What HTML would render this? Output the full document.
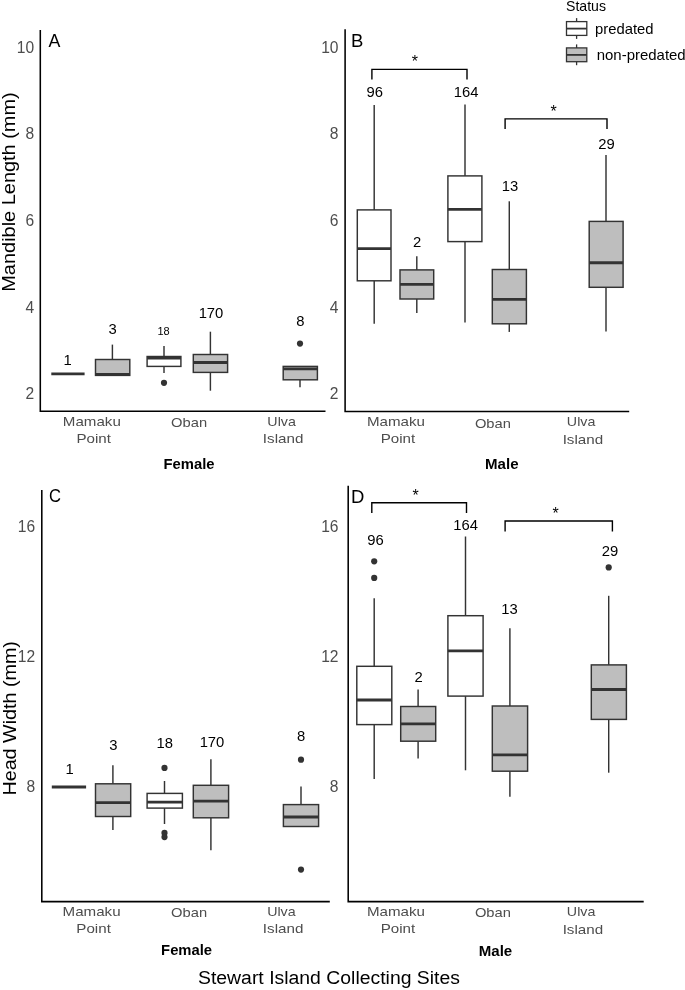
<!DOCTYPE html>
<html><head><meta charset="utf-8"><title>Boxplots</title>
<style>
html,body{margin:0;padding:0;background:#fff;}
svg{display:block;filter:grayscale(1);}
svg text{font-family:"Liberation Sans",sans-serif;}
</style></head><body>
<svg width="685" height="990" viewBox="0 0 685 990">
<rect width="685" height="990" fill="#fff"/>
<path d="M40.3 30 V411.3 H325.5" fill="none" stroke="#000" stroke-width="1.55" stroke-linejoin="miter"/>
<text x="34.2" y="52.8" font-size="15.6" fill="#4d4d4d" text-anchor="end" font-weight="normal">10</text>
<text x="34.2" y="139.4" font-size="15.6" fill="#4d4d4d" text-anchor="end" font-weight="normal">8</text>
<text x="34.2" y="226.0" font-size="15.6" fill="#4d4d4d" text-anchor="end" font-weight="normal">6</text>
<text x="34.2" y="312.59999999999997" font-size="15.6" fill="#4d4d4d" text-anchor="end" font-weight="normal">4</text>
<text x="34.2" y="399.2" font-size="15.6" fill="#4d4d4d" text-anchor="end" font-weight="normal">2</text>
<text x="48.5" y="47.4" font-size="18.5" fill="#000" text-anchor="start" font-weight="normal" textLength="11.9" lengthAdjust="spacingAndGlyphs">A</text>
<line x1="51.3" y1="373.9" x2="84.6" y2="373.9" stroke="#333333" stroke-width="2.85"/>
<text x="67.7" y="365.1096" font-size="14.8" fill="#000" text-anchor="middle" font-weight="normal">1</text>
<line x1="112.4" y1="344.6" x2="112.4" y2="359.5" stroke="#333333" stroke-width="1.45"/>
<rect x="95.5" y="359.5" width="34.30" height="15.90" fill="#bebebe" stroke="#333333" stroke-width="1.45"/>
<line x1="95.5" y1="374.3" x2="129.8" y2="374.3" stroke="#333333" stroke-width="2.85"/>
<text x="112.6" y="333.6096" font-size="14.8" fill="#000" text-anchor="middle" font-weight="normal">3</text>
<line x1="164" y1="346.1" x2="164" y2="356.5" stroke="#333333" stroke-width="1.45"/>
<line x1="164" y1="366.4" x2="164" y2="372.9" stroke="#333333" stroke-width="1.45"/>
<rect x="147.1" y="356.5" width="33.80" height="9.90" fill="#ffffff" stroke="#333333" stroke-width="1.45"/>
<line x1="147.1" y1="358.0" x2="180.9" y2="358.0" stroke="#333333" stroke-width="2.85"/>
<circle cx="164" cy="382.8" r="3.1" fill="#333333"/>
<text x="163.5" y="335.172" font-size="11" fill="#000" text-anchor="middle" font-weight="normal">18</text>
<line x1="210.4" y1="331.7" x2="210.4" y2="354.5" stroke="#333333" stroke-width="1.45"/>
<line x1="210.4" y1="372.4" x2="210.4" y2="390.7" stroke="#333333" stroke-width="1.45"/>
<rect x="193.3" y="354.5" width="34.30" height="17.90" fill="#bebebe" stroke="#333333" stroke-width="1.45"/>
<line x1="193.3" y1="362.5" x2="227.6" y2="362.5" stroke="#333333" stroke-width="2.85"/>
<text x="211" y="318.4096" font-size="14.8" fill="#000" text-anchor="middle" font-weight="normal">170</text>
<line x1="300" y1="379.8" x2="300" y2="387.3" stroke="#333333" stroke-width="1.45"/>
<rect x="283.2" y="366.4" width="34.20" height="13.40" fill="#bebebe" stroke="#333333" stroke-width="1.45"/>
<line x1="283.2" y1="368.9" x2="317.4" y2="368.9" stroke="#333333" stroke-width="2.85"/>
<circle cx="300" cy="343.6" r="3.1" fill="#333333"/>
<text x="300.3" y="326.2096" font-size="14.8" fill="#000" text-anchor="middle" font-weight="normal">8</text>
<text x="91.8" y="426.2" font-size="13.5" fill="#4d4d4d" text-anchor="middle" font-weight="normal" textLength="58" lengthAdjust="spacingAndGlyphs">Mamaku</text>
<text x="93.7" y="443.0" font-size="13.5" fill="#4d4d4d" text-anchor="middle" font-weight="normal" textLength="34.5" lengthAdjust="spacingAndGlyphs">Point</text>
<text x="189.1" y="426.6" font-size="13.5" fill="#4d4d4d" text-anchor="middle" font-weight="normal" textLength="36" lengthAdjust="spacingAndGlyphs">Oban</text>
<text x="281.6" y="426.2" font-size="13.5" fill="#4d4d4d" text-anchor="middle" font-weight="normal" textLength="28.5" lengthAdjust="spacingAndGlyphs">Ulva</text>
<text x="283.1" y="443.2" font-size="13.5" fill="#4d4d4d" text-anchor="middle" font-weight="normal" textLength="40.5" lengthAdjust="spacingAndGlyphs">Island</text>
<text x="189" y="469.3" font-size="13.8" fill="#000" text-anchor="middle" font-weight="bold" textLength="51" lengthAdjust="spacingAndGlyphs">Female</text>
<path d="M345.1 29.3 V411.4 H629.2" fill="none" stroke="#000" stroke-width="1.55" stroke-linejoin="miter"/>
<text x="338.5" y="52.8" font-size="15.6" fill="#4d4d4d" text-anchor="end" font-weight="normal">10</text>
<text x="338.5" y="139.4" font-size="15.6" fill="#4d4d4d" text-anchor="end" font-weight="normal">8</text>
<text x="338.5" y="226.0" font-size="15.6" fill="#4d4d4d" text-anchor="end" font-weight="normal">6</text>
<text x="338.5" y="312.59999999999997" font-size="15.6" fill="#4d4d4d" text-anchor="end" font-weight="normal">4</text>
<text x="338.5" y="399.2" font-size="15.6" fill="#4d4d4d" text-anchor="end" font-weight="normal">2</text>
<text x="351.1" y="47.4" font-size="18.5" fill="#000" text-anchor="start" font-weight="normal">B</text>
<path d="M371.9 79.4 V69.4 H467 V79.4" fill="none" stroke="#000" stroke-width="1.4"/>
<text x="414.9" y="67.2" font-size="16" fill="#000" text-anchor="middle" font-weight="normal">*</text>
<path d="M505.1 128.9 V118.9 H607 V128.9" fill="none" stroke="#000" stroke-width="1.4"/>
<text x="553.6" y="117.1" font-size="16" fill="#000" text-anchor="middle" font-weight="normal">*</text>
<line x1="374.2" y1="105.1" x2="374.2" y2="209.9" stroke="#333333" stroke-width="1.45"/>
<line x1="374.2" y1="280.8" x2="374.2" y2="323.8" stroke="#333333" stroke-width="1.45"/>
<rect x="357.3" y="209.9" width="33.70" height="70.90" fill="#ffffff" stroke="#333333" stroke-width="1.45"/>
<line x1="357.3" y1="248.6" x2="391" y2="248.6" stroke="#333333" stroke-width="2.85"/>
<text x="374.7" y="97.1096" font-size="14.8" fill="#000" text-anchor="middle" font-weight="normal">96</text>
<line x1="416.8" y1="256.3" x2="416.8" y2="269.9" stroke="#333333" stroke-width="1.45"/>
<line x1="416.8" y1="299" x2="416.8" y2="312.9" stroke="#333333" stroke-width="1.45"/>
<rect x="400" y="269.9" width="33.70" height="29.10" fill="#bebebe" stroke="#333333" stroke-width="1.45"/>
<line x1="400" y1="284.3" x2="433.7" y2="284.3" stroke="#333333" stroke-width="2.85"/>
<text x="417" y="246.8096" font-size="14.8" fill="#000" text-anchor="middle" font-weight="normal">2</text>
<line x1="465" y1="104.4" x2="465" y2="175.9" stroke="#333333" stroke-width="1.45"/>
<line x1="465" y1="241.6" x2="465" y2="322.5" stroke="#333333" stroke-width="1.45"/>
<rect x="447.9" y="175.9" width="34.00" height="65.70" fill="#ffffff" stroke="#333333" stroke-width="1.45"/>
<line x1="447.9" y1="209.4" x2="481.9" y2="209.4" stroke="#333333" stroke-width="2.85"/>
<text x="466.2" y="97.1096" font-size="14.8" fill="#000" text-anchor="middle" font-weight="normal">164</text>
<line x1="509.3" y1="201.3" x2="509.3" y2="269.5" stroke="#333333" stroke-width="1.45"/>
<line x1="509.3" y1="323.8" x2="509.3" y2="331.9" stroke="#333333" stroke-width="1.45"/>
<rect x="492.3" y="269.5" width="34.10" height="54.30" fill="#bebebe" stroke="#333333" stroke-width="1.45"/>
<line x1="492.3" y1="299.4" x2="526.4" y2="299.4" stroke="#333333" stroke-width="2.85"/>
<text x="509.9" y="191.40959999999998" font-size="14.8" fill="#000" text-anchor="middle" font-weight="normal">13</text>
<line x1="606" y1="155" x2="606" y2="221.4" stroke="#333333" stroke-width="1.45"/>
<line x1="606" y1="287.3" x2="606" y2="331.6" stroke="#333333" stroke-width="1.45"/>
<rect x="589.2" y="221.4" width="33.90" height="65.90" fill="#bebebe" stroke="#333333" stroke-width="1.45"/>
<line x1="589.2" y1="262.7" x2="623.1" y2="262.7" stroke="#333333" stroke-width="2.85"/>
<text x="606.6" y="149.3096" font-size="14.8" fill="#000" text-anchor="middle" font-weight="normal">29</text>
<text x="396" y="425.8" font-size="13.5" fill="#4d4d4d" text-anchor="middle" font-weight="normal" textLength="58" lengthAdjust="spacingAndGlyphs">Mamaku</text>
<text x="398" y="442.9" font-size="13.5" fill="#4d4d4d" text-anchor="middle" font-weight="normal" textLength="34.5" lengthAdjust="spacingAndGlyphs">Point</text>
<text x="492.9" y="427.5" font-size="13.5" fill="#4d4d4d" text-anchor="middle" font-weight="normal" textLength="36" lengthAdjust="spacingAndGlyphs">Oban</text>
<text x="581.1" y="426.3" font-size="13.5" fill="#4d4d4d" text-anchor="middle" font-weight="normal" textLength="28.5" lengthAdjust="spacingAndGlyphs">Ulva</text>
<text x="582.9" y="443.6" font-size="13.5" fill="#4d4d4d" text-anchor="middle" font-weight="normal" textLength="40.5" lengthAdjust="spacingAndGlyphs">Island</text>
<text x="501.8" y="469.3" font-size="13.8" fill="#000" text-anchor="middle" font-weight="bold" textLength="33.5" lengthAdjust="spacingAndGlyphs">Male</text>
<text x="566" y="10.7" font-size="14.2" fill="#000" text-anchor="start" font-weight="normal" textLength="40" lengthAdjust="spacingAndGlyphs">Status</text>
<line x1="576.6" y1="18.1" x2="576.6" y2="38.900000000000006" stroke="#333333" stroke-width="1.3"/>
<rect x="566.5" y="21.6" width="20.3" height="13.8" fill="#ffffff" stroke="#333333" stroke-width="1.3"/>
<line x1="566.5" y1="28.6" x2="586.8" y2="28.6" stroke="#333333" stroke-width="1.8"/>
<line x1="576.6" y1="44.4" x2="576.6" y2="65.2" stroke="#333333" stroke-width="1.3"/>
<rect x="566.5" y="47.9" width="20.3" height="13.8" fill="#bebebe" stroke="#333333" stroke-width="1.3"/>
<line x1="566.5" y1="54.9" x2="586.8" y2="54.9" stroke="#333333" stroke-width="1.8"/>
<text x="595" y="33.5" font-size="14.2" fill="#000" text-anchor="start" font-weight="normal" textLength="58.5" lengthAdjust="spacingAndGlyphs">predated</text>
<text x="596.7" y="59.8" font-size="14.2" fill="#000" text-anchor="start" font-weight="normal" textLength="89" lengthAdjust="spacingAndGlyphs">non-predated</text>
<path d="M41.8 490.0 V901.6 H329.8" fill="none" stroke="#000" stroke-width="1.55" stroke-linejoin="miter"/>
<text x="35.2" y="531.9" font-size="15.6" fill="#4d4d4d" text-anchor="end" font-weight="normal">16</text>
<text x="35.2" y="662.1" font-size="15.6" fill="#4d4d4d" text-anchor="end" font-weight="normal">12</text>
<text x="35.2" y="792.3" font-size="15.6" fill="#4d4d4d" text-anchor="end" font-weight="normal">8</text>
<text x="48.9" y="502.4" font-size="18.5" fill="#000" text-anchor="start" font-weight="normal" textLength="12.0" lengthAdjust="spacingAndGlyphs">C</text>
<line x1="51.8" y1="787" x2="86.1" y2="787" stroke="#333333" stroke-width="2.85"/>
<text x="69.7" y="774.3096" font-size="14.8" fill="#000" text-anchor="middle" font-weight="normal">1</text>
<line x1="112.9" y1="765.2" x2="112.9" y2="783.8" stroke="#333333" stroke-width="1.45"/>
<line x1="112.9" y1="816.5" x2="112.9" y2="829.9" stroke="#333333" stroke-width="1.45"/>
<rect x="95.5" y="783.8" width="35.20" height="32.70" fill="#bebebe" stroke="#333333" stroke-width="1.45"/>
<line x1="95.5" y1="802.6" x2="130.7" y2="802.6" stroke="#333333" stroke-width="2.85"/>
<text x="113.4" y="750.0096000000001" font-size="14.8" fill="#000" text-anchor="middle" font-weight="normal">3</text>
<line x1="164.5" y1="781" x2="164.5" y2="793.4" stroke="#333333" stroke-width="1.45"/>
<line x1="164.5" y1="808.1" x2="164.5" y2="824" stroke="#333333" stroke-width="1.45"/>
<rect x="147.1" y="793.4" width="35.30" height="14.70" fill="#ffffff" stroke="#333333" stroke-width="1.45"/>
<line x1="147.1" y1="802.1" x2="182.4" y2="802.1" stroke="#333333" stroke-width="2.85"/>
<circle cx="164.5" cy="767.9" r="3.1" fill="#333333"/>
<circle cx="164.5" cy="832.9" r="3.1" fill="#333333"/>
<circle cx="164.5" cy="837.1" r="3.1" fill="#333333"/>
<text x="164.8" y="747.5096000000001" font-size="14.8" fill="#000" text-anchor="middle" font-weight="normal">18</text>
<line x1="210.9" y1="759.2" x2="210.9" y2="785.3" stroke="#333333" stroke-width="1.45"/>
<line x1="210.9" y1="817.8" x2="210.9" y2="850.3" stroke="#333333" stroke-width="1.45"/>
<rect x="193.3" y="785.3" width="35.30" height="32.50" fill="#bebebe" stroke="#333333" stroke-width="1.45"/>
<line x1="193.3" y1="801.1" x2="228.6" y2="801.1" stroke="#333333" stroke-width="2.85"/>
<text x="212" y="746.7096" font-size="14.8" fill="#000" text-anchor="middle" font-weight="normal">170</text>
<line x1="301" y1="786.5" x2="301" y2="804.6" stroke="#333333" stroke-width="1.45"/>
<rect x="283.4" y="804.6" width="35.20" height="21.90" fill="#bebebe" stroke="#333333" stroke-width="1.45"/>
<line x1="283.4" y1="817" x2="318.6" y2="817" stroke="#333333" stroke-width="2.85"/>
<circle cx="301" cy="759.7" r="3.1" fill="#333333"/>
<circle cx="301" cy="869.6" r="3.1" fill="#333333"/>
<text x="301.2" y="740.5096000000001" font-size="14.8" fill="#000" text-anchor="middle" font-weight="normal">8</text>
<text x="91.6" y="915.8" font-size="13.5" fill="#4d4d4d" text-anchor="middle" font-weight="normal" textLength="58" lengthAdjust="spacingAndGlyphs">Mamaku</text>
<text x="93.6" y="932.6" font-size="13.5" fill="#4d4d4d" text-anchor="middle" font-weight="normal" textLength="34.5" lengthAdjust="spacingAndGlyphs">Point</text>
<text x="189.1" y="917.3" font-size="13.5" fill="#4d4d4d" text-anchor="middle" font-weight="normal" textLength="36" lengthAdjust="spacingAndGlyphs">Oban</text>
<text x="281.4" y="916.1" font-size="13.5" fill="#4d4d4d" text-anchor="middle" font-weight="normal" textLength="28.5" lengthAdjust="spacingAndGlyphs">Ulva</text>
<text x="283.1" y="933.4" font-size="13.5" fill="#4d4d4d" text-anchor="middle" font-weight="normal" textLength="40.5" lengthAdjust="spacingAndGlyphs">Island</text>
<text x="186.6" y="955.4" font-size="13.8" fill="#000" text-anchor="middle" font-weight="bold" textLength="51" lengthAdjust="spacingAndGlyphs">Female</text>
<path d="M348.2 485.7 V901.6 H643.7" fill="none" stroke="#000" stroke-width="1.55" stroke-linejoin="miter"/>
<text x="338.5" y="531.6" font-size="15.6" fill="#4d4d4d" text-anchor="end" font-weight="normal">16</text>
<text x="338.5" y="661.8" font-size="15.6" fill="#4d4d4d" text-anchor="end" font-weight="normal">12</text>
<text x="338.5" y="792.1" font-size="15.6" fill="#4d4d4d" text-anchor="end" font-weight="normal">8</text>
<text x="350.9" y="502.6" font-size="18.5" fill="#000" text-anchor="start" font-weight="normal">D</text>
<path d="M371.8 512.9 V502.7 H466.5 V512.9" fill="none" stroke="#000" stroke-width="1.4"/>
<text x="415.6" y="500.9" font-size="16" fill="#000" text-anchor="middle" font-weight="normal">*</text>
<path d="M505.1 531.4 V521.0 H612.4 V531.4" fill="none" stroke="#000" stroke-width="1.4"/>
<text x="555.7" y="519.4" font-size="16" fill="#000" text-anchor="middle" font-weight="normal">*</text>
<line x1="374.2" y1="598.3" x2="374.2" y2="666.3" stroke="#333333" stroke-width="1.45"/>
<line x1="374.2" y1="724.6" x2="374.2" y2="779" stroke="#333333" stroke-width="1.45"/>
<rect x="356.8" y="666.3" width="35.00" height="58.30" fill="#ffffff" stroke="#333333" stroke-width="1.45"/>
<line x1="356.8" y1="700" x2="391.8" y2="700" stroke="#333333" stroke-width="2.85"/>
<circle cx="374.2" cy="561.3" r="3.1" fill="#333333"/>
<circle cx="374.2" cy="577.9" r="3.1" fill="#333333"/>
<text x="375.4" y="544.9096000000001" font-size="14.8" fill="#000" text-anchor="middle" font-weight="normal">96</text>
<line x1="418.1" y1="689.6" x2="418.1" y2="706.5" stroke="#333333" stroke-width="1.45"/>
<line x1="418.1" y1="741.2" x2="418.1" y2="758.4" stroke="#333333" stroke-width="1.45"/>
<rect x="400.7" y="706.5" width="35.00" height="34.70" fill="#bebebe" stroke="#333333" stroke-width="1.45"/>
<line x1="400.7" y1="723.9" x2="435.7" y2="723.9" stroke="#333333" stroke-width="2.85"/>
<text x="418.6" y="681.6096000000001" font-size="14.8" fill="#000" text-anchor="middle" font-weight="normal">2</text>
<line x1="465.5" y1="536.5" x2="465.5" y2="615.7" stroke="#333333" stroke-width="1.45"/>
<line x1="465.5" y1="696.1" x2="465.5" y2="770.3" stroke="#333333" stroke-width="1.45"/>
<rect x="447.9" y="615.7" width="35.20" height="80.40" fill="#ffffff" stroke="#333333" stroke-width="1.45"/>
<line x1="447.9" y1="650.8" x2="483.1" y2="650.8" stroke="#333333" stroke-width="2.85"/>
<text x="465.7" y="529.5096000000001" font-size="14.8" fill="#000" text-anchor="middle" font-weight="normal">164</text>
<line x1="509.9" y1="628.2" x2="509.9" y2="706" stroke="#333333" stroke-width="1.45"/>
<line x1="509.9" y1="771.2" x2="509.9" y2="796.7" stroke="#333333" stroke-width="1.45"/>
<rect x="492.3" y="706" width="35.30" height="65.20" fill="#bebebe" stroke="#333333" stroke-width="1.45"/>
<line x1="492.3" y1="754.8" x2="527.6" y2="754.8" stroke="#333333" stroke-width="2.85"/>
<text x="509.6" y="613.7096" font-size="14.8" fill="#000" text-anchor="middle" font-weight="normal">13</text>
<line x1="608.7" y1="595.8" x2="608.7" y2="664.9" stroke="#333333" stroke-width="1.45"/>
<line x1="608.7" y1="719.4" x2="608.7" y2="772.7" stroke="#333333" stroke-width="1.45"/>
<rect x="591.3" y="664.9" width="35.10" height="54.50" fill="#bebebe" stroke="#333333" stroke-width="1.45"/>
<line x1="591.3" y1="689.5" x2="626.4" y2="689.5" stroke="#333333" stroke-width="2.85"/>
<circle cx="608.7" cy="567.4" r="3.1" fill="#333333"/>
<text x="609.9" y="555.6096000000001" font-size="14.8" fill="#000" text-anchor="middle" font-weight="normal">29</text>
<text x="396" y="916.1" font-size="13.5" fill="#4d4d4d" text-anchor="middle" font-weight="normal" textLength="58" lengthAdjust="spacingAndGlyphs">Mamaku</text>
<text x="398" y="933.4" font-size="13.5" fill="#4d4d4d" text-anchor="middle" font-weight="normal" textLength="34.5" lengthAdjust="spacingAndGlyphs">Point</text>
<text x="492.9" y="917.2" font-size="13.5" fill="#4d4d4d" text-anchor="middle" font-weight="normal" textLength="36" lengthAdjust="spacingAndGlyphs">Oban</text>
<text x="581.1" y="916.3" font-size="13.5" fill="#4d4d4d" text-anchor="middle" font-weight="normal" textLength="28.5" lengthAdjust="spacingAndGlyphs">Ulva</text>
<text x="582.9" y="933.7" font-size="13.5" fill="#4d4d4d" text-anchor="middle" font-weight="normal" textLength="40.5" lengthAdjust="spacingAndGlyphs">Island</text>
<text x="495.5" y="955.8" font-size="13.8" fill="#000" text-anchor="middle" font-weight="bold" textLength="33.5" lengthAdjust="spacingAndGlyphs">Male</text>
<text x="329" y="984" font-size="18" fill="#000" text-anchor="middle" font-weight="normal" textLength="262" lengthAdjust="spacingAndGlyphs">Stewart Island Collecting Sites</text>
<text transform="translate(15.3,192) rotate(-90)" font-size="18" text-anchor="middle" textLength="199.5" lengthAdjust="spacingAndGlyphs">Mandible Length (mm)</text>
<text transform="translate(15.8,718.3) rotate(-90)" font-size="18" text-anchor="middle" textLength="154.5" lengthAdjust="spacingAndGlyphs">Head Width (mm)</text>
</svg>
</body></html>
